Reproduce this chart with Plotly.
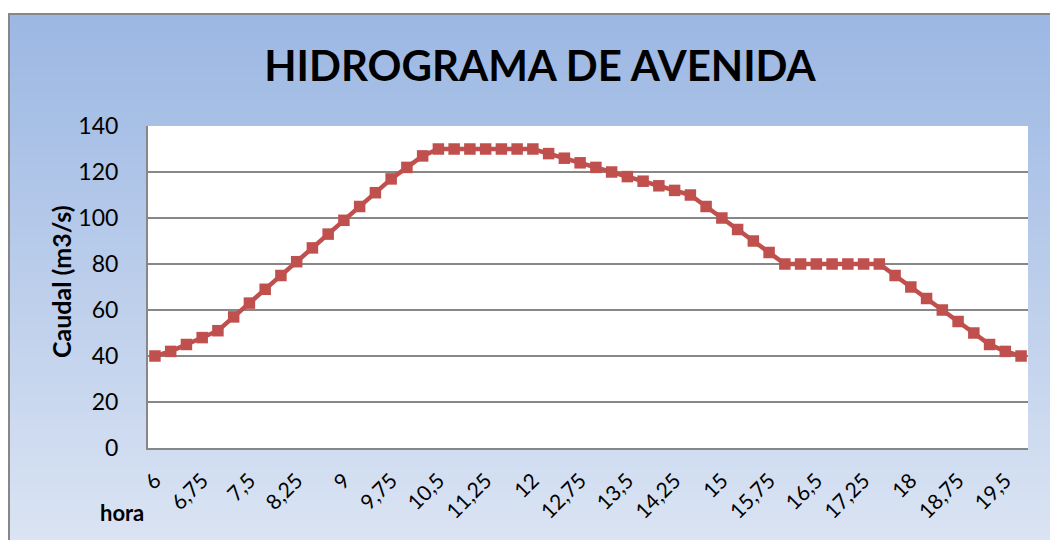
import plotly.graph_objects as go

hours = [6 + 0.25 * i for i in range(56)]
caudal = [40, 42, 45, 48, 51, 57, 63, 69, 75, 81, 87, 93, 99, 105, 111, 117, 122, 127,
          130, 130, 130, 130, 130, 130, 130,
          128, 126, 124, 122, 120, 118, 116, 114, 112, 110,
          105, 100, 95, 90, 85,
          80, 80, 80, 80, 80, 80, 80,
          75, 70, 65, 60, 55, 50, 45, 42, 40]
tick_hours = hours[::3]
tick_text = [("%g" % h).replace(".", ",") for h in tick_hours]

OFF = 8  # page body margin offset
W, H = 1050, 532
# plot area in screenshot coordinates
SL, SR, ST, SB = 148, 1028, 126, 448
L, R, T, B = SL - OFF, SR - OFF, ST - OFF, SB - OFF


def px(x):
    return (x - SL) / (SR - SL)


def py(y):
    return (SB - y) / (SB - ST)


shapes = []
top_c = (155, 183, 227)
bot_c = (219, 228, 243)
n = 60
y0p, y1p = 13, 545
for i in range(n):
    a = y0p + (y1p - y0p) * i / n
    b = y0p + (y1p - y0p) * (i + 1) / n + 0.8
    t = (i + 0.5) / n
    c = tuple(round(top_c[k] + (bot_c[k] - top_c[k]) * t) for k in range(3))
    shapes.append(dict(type="rect", xref="paper", yref="paper", layer="below",
                       x0=px(7), x1=px(1070), y0=py(a), y1=py(b),
                       fillcolor="rgb(%d,%d,%d)" % c, line=dict(width=0)))
shapes.append(dict(type="rect", xref="paper", yref="paper", layer="below",
                   x0=0, x1=1, y0=0, y1=1, fillcolor="white", line=dict(width=0)))
shapes.append(dict(type="rect", xref="paper", yref="paper", layer="above",
                   x0=px(9), x1=px(1080), y0=py(14), y1=py(560),
                   fillcolor="rgba(0,0,0,0)", line=dict(color="#878787", width=2)))

fig = go.Figure()
fig.add_trace(go.Scatter(
    x=hours, y=caudal, mode="lines+markers",
    line=dict(color="#C0504D", width=4.5),
    marker=dict(symbol="square", size=11.5, color="#C0504D",
                line=dict(color="#C0504D", width=0)),
    showlegend=False, cliponaxis=False))

fig.update_layout(
    width=W, height=H,
    margin=dict(l=L, r=W - R, t=T, b=H - B),
    paper_bgcolor="white", plot_bgcolor="rgba(0,0,0,0)",
    font=dict(family="Lato", color="black"),
    title=dict(text="<b>HIDROGRAMA DE AVENIDA</b>", x=(540 - OFF) / W, xanchor="center",
               y=1 - (66 - OFF) / H, yanchor="middle", font=dict(size=42, family="Lato")),
    shapes=shapes,
    annotations=[
        dict(text="<b>hora</b>", xref="paper", yref="paper",
             x=px(122), y=py(513), xanchor="center", yanchor="middle",
             showarrow=False, font=dict(size=22, family="Lato")),
        dict(text="<b>Caudal (m3/s)</b>", xref="paper", yref="paper", textangle=-90,
             x=px(61), y=py(282), xanchor="center", yanchor="middle",
             showarrow=False, font=dict(size=25, family="Lato")),
    ],
)
fig.update_xaxes(
    range=[5.89, 19.86], tickmode="array", tickvals=tick_hours, ticktext=tick_text,
    tickangle=-45, showgrid=False, showline=True, linecolor="#878787", linewidth=2,
    ticks="", tickfont=dict(size=21), ticklabelstandoff=10, zeroline=False)
fig.update_yaxes(
    range=[0, 140], dtick=20, showgrid=True, gridcolor="#878787", gridwidth=1.5,
    showline=True, linecolor="#878787", linewidth=2, ticks="",
    tickfont=dict(size=23), ticklabelstandoff=23, zeroline=False)

fig.write_html("out.html")
